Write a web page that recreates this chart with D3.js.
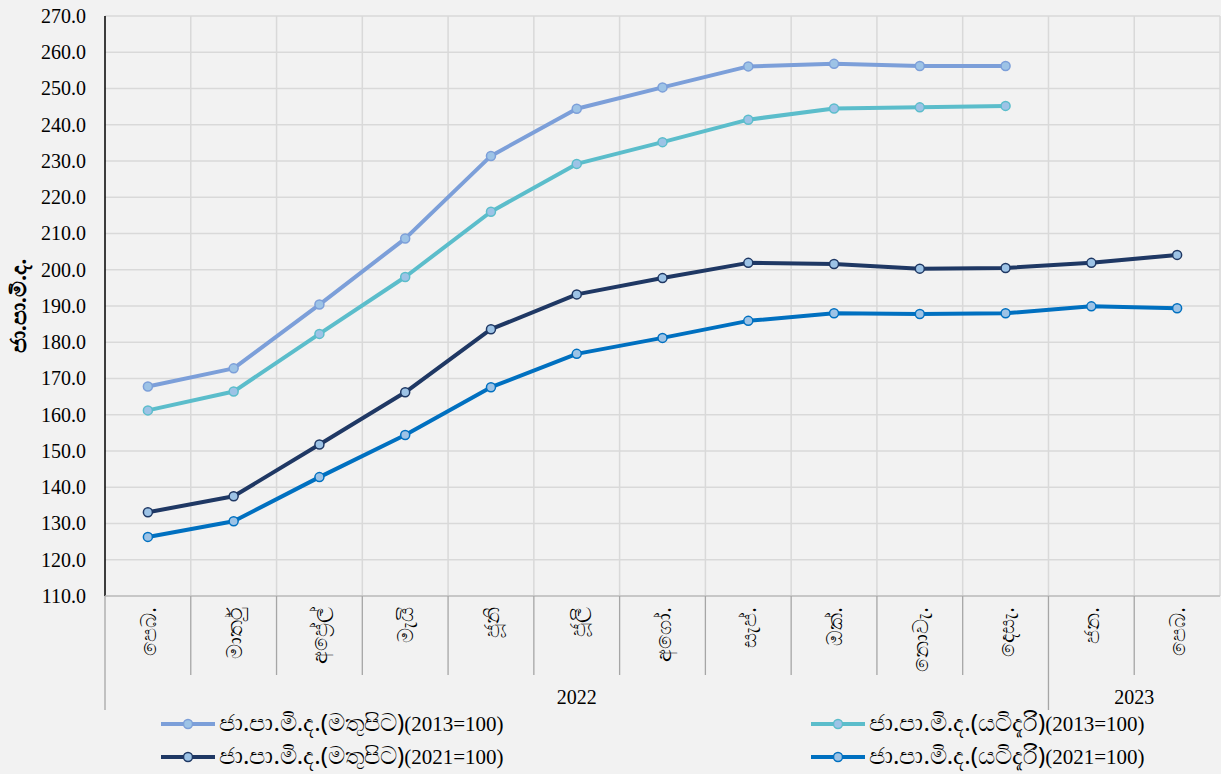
<!DOCTYPE html>
<html><head><meta charset="utf-8">
<script src="https://cdn.jsdelivr.net/npm/d3@7"></script>
<style>
html,body{margin:0;padding:0;background:#F2F2F2;}
svg{display:block;}
</style></head>
<body>
<svg id="chart" width="1221" height="774"></svg>
<script>
const months = ["පෙබ.","මාර්තු","අප්‍රේල්","මැයි","ජූනි","ජූලි","අගෝ.","සැප්.","ඔක්.","නොවැ.","දෙසැ.","ජන.","පෙබ."];
const years = [{label:"2022", from:0, to:11},{label:"2023", from:11, to:13}];
const yTicks = [110,120,130,140,150,160,170,180,190,200,210,220,230,240,250,260,270];
const seriesNames = ["ජා.පා.මි.ද.(මතුපිට)(2013=100)","ජා.පා.මි.ද.(යටිදැරි)(2013=100)","ජා.පා.මි.ද.(මතුපිට)(2021=100)","ජා.පා.මි.ද.(යටිදැරි)(2021=100)"];
const headline2013 = [167.8,172.8,190.4,208.6,231.4,244.4,250.3,256.1,256.8,256.2,256.2];
const core2013 = [161.2,166.4,182.3,198.0,216.0,229.2,235.2,241.4,244.5,244.8,245.2];
const headline2021 = [133.1,137.5,151.8,166.2,183.6,193.2,197.7,201.9,201.6,200.3,200.5,201.9,204.1];
const core2021 = [126.3,130.6,142.8,154.4,167.6,176.8,181.2,185.9,188.0,187.8,188.0,189.9,189.4];
const yTitle = "ජා.පා.මි.ද.";

const colors = ["#7C9FD9","#5BBDCB","#1F3864","#0070C0"];
const seriesData = [headline2013, core2013, headline2021, core2021];

const svg = d3.select("#chart");
const pL = 105, pR = 1220, pT = 16, pB = 596;
const serif = "'Liberation Serif','Times New Roman',serif";
const sinh = "'Noto Sans','DejaVu Sans',sans-serif";

const x = d3.scaleBand().domain(d3.range(months.length)).range([pL, pR]).padding(0);
const y = d3.scaleLinear().domain([110, 270]).range([pB, pT]);

svg.append("rect").attr("width",1221).attr("height",774).attr("fill","#F2F2F2");

svg.append("g").selectAll("line").data(yTicks).join("line")
  .attr("x1", pL).attr("x2", pR)
  .attr("y1", d => y(d)).attr("y2", d => y(d))
  .attr("stroke", "#D9D9D9").attr("stroke-width", 1.5);

const bounds = d3.range(1, months.length + 1).map(i => pL + i * x.bandwidth());
svg.append("g").selectAll("line").data(bounds).join("line")
  .attr("x1", d => d).attr("x2", d => d)
  .attr("y1", pT).attr("y2", pB)
  .attr("stroke", "#D9D9D9").attr("stroke-width", 1.5);

const yAxis = d3.axisLeft(y).tickValues(yTicks).tickFormat(d3.format(".1f")).tickSize(0).tickPadding(19);
const gy = svg.append("g").attr("transform", `translate(${pL},0)`).call(yAxis);
gy.select(".domain").remove();
gy.selectAll("text").attr("font-family", serif).attr("font-size", 20).attr("fill", "#000");
svg.append("line").attr("x1", pL).attr("x2", pL).attr("y1", pT).attr("y2", pB)
  .attr("stroke", "#000").attr("stroke-width", 1.5);

svg.append("text").attr("transform", `translate(26,${(pT+pB)/2}) rotate(-90)`)
  .attr("text-anchor","middle").attr("font-weight","bold").attr("font-size",22)
  .attr("font-family",sinh).text(yTitle);

svg.append("line").attr("x1", pL).attr("x2", pR).attr("y1", pB).attr("y2", pB)
  .attr("stroke", "#BFBFBF").attr("stroke-width", 1.5);

const yearBounds = new Set(years.map(d => d.from));
svg.append("g").selectAll("line").data(d3.range(0, months.length)).join("line")
  .attr("x1", i => pL + i * x.bandwidth()).attr("x2", i => pL + i * x.bandwidth())
  .attr("y1", pB).attr("y2", i => yearBounds.has(i) ? 710 : 675)
  .attr("stroke", "#A6A6A6").attr("stroke-width", 1.3);

svg.append("g").selectAll("text").data(months).join("text")
  .attr("transform", (d, i) => `translate(${x(i) + x.bandwidth()/2 + 8},607) rotate(-90)`)
  .attr("text-anchor", "end")
  .attr("font-size", 21)
  .attr("font-family",sinh)
  .attr("fill","#000")
  .text(d => d);

svg.append("g").selectAll("text").data(years).join("text")
  .attr("x", d => pL + (d.from + d.to) / 2 * x.bandwidth())
  .attr("y", 704)
  .attr("text-anchor", "middle")
  .attr("font-family", serif).attr("font-size", 20)
  .text(d => d.label);

const line = d3.line().x((d, i) => x(i) + x.bandwidth()/2).y(d => y(d));
seriesData.forEach((data, s) => {
  svg.append("path").datum(data).attr("d", line)
    .attr("fill","none").attr("stroke", colors[s]).attr("stroke-width", 4)
    .attr("stroke-linejoin","round");
  svg.append("g").selectAll("circle").data(data).join("circle")
    .attr("cx", (d, i) => x(i) + x.bandwidth()/2).attr("cy", d => y(d))
    .attr("r", 4.5).attr("fill", "#9DC3E6").attr("stroke", colors[s]).attr("stroke-width", 1.5);
});

const legendPos = [{x:161, y:724},{x:811, y:724},{x:161, y:757},{x:811, y:757}];
const lg = svg.append("g").selectAll("g").data(seriesNames).join("g")
  .attr("transform", (d, i) => `translate(${legendPos[i].x},${legendPos[i].y})`);
lg.append("line").attr("x1",0).attr("x2",54).attr("y1",0).attr("y2",0)
  .attr("stroke",(d,i)=>colors[i]).attr("stroke-width",4);
lg.append("circle").attr("cx",27).attr("cy",0).attr("r",4.5)
  .attr("fill","#9DC3E6").attr("stroke",(d,i)=>colors[i]).attr("stroke-width",1.5);
const lt = lg.append("text").attr("x",58).attr("y",7).attr("fill","#000");
lt.append("tspan").attr("font-family", sinh).attr("font-size", 24)
  .text(d => d.replace(/\(\d{4}=100\)$/, ""));
lt.append("tspan").attr("font-family", serif).attr("font-size", 21)
  .text(d => d.match(/\(\d{4}=100\)$/)[0]);
</script>
</body></html>
